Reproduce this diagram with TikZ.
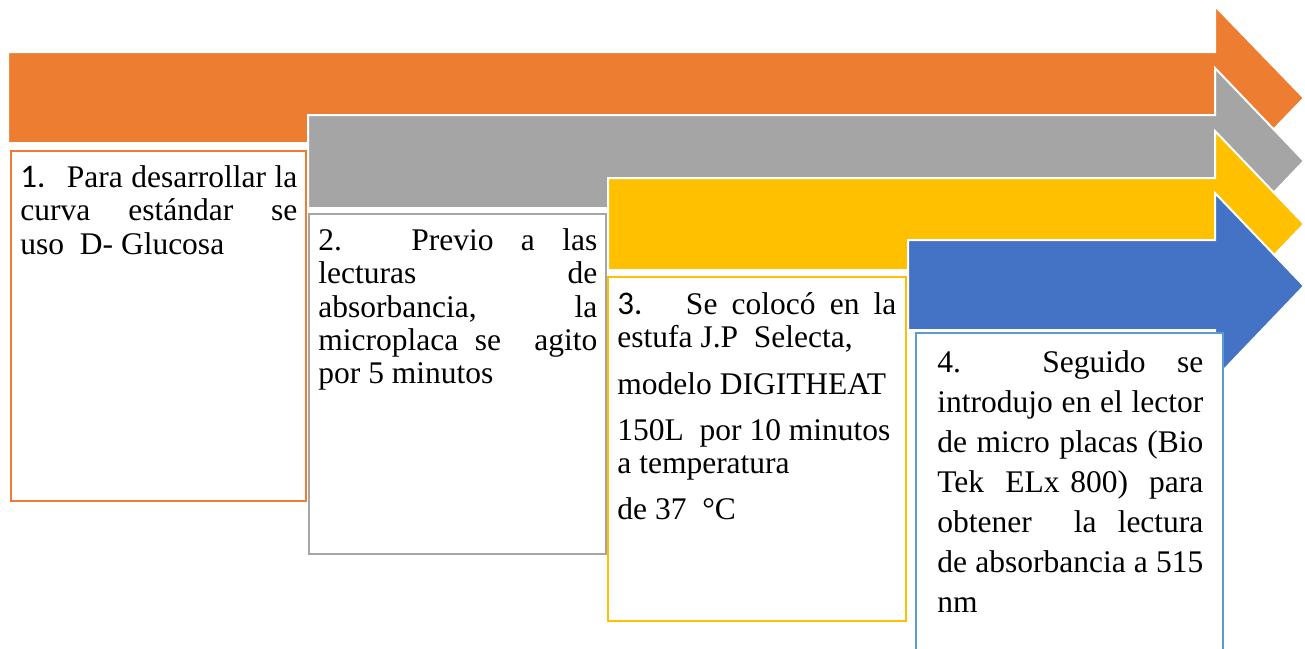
\documentclass[tikz,border=0pt]{standalone}
\usepackage{fontspec}
\setmainfont{Liberation Serif}
\newfontfamily\numfont{Carlito}
\usetikzlibrary{positioning}
\definecolor{pasoA}{HTML}{ED7D31}
\definecolor{pasoB}{HTML}{A5A5A5}
\definecolor{pasoC}{HTML}{FFC000}
\definecolor{pasoD}{HTML}{4472C4}
\definecolor{bordeD}{HTML}{5B9BD5}
\tikzset{
  flecha/.style={fill=#1, draw=white, line width=1pt, line join=miter},
  caja/.style={draw=#1, fill=white, line width=1pt, anchor=north west, inner sep=0pt},
  texto/.style={anchor=north west, inner sep=0pt, align=justify,
    font=\fontsize{15.75}{16.7}\selectfont},
}

\begin{document}
\begin{tikzpicture}[x=0.5pt, y=-0.5pt]
        \useasboundingbox (0, 0) rectangle (1305, 648);
        % arrows
        \filldraw[flecha=pasoA] (8, 52) -- (1215, 52) -- (1215, 6) -- (1304, 98)
          -- (1215, 190) -- (1215, 143) -- (8, 143) -- cycle;
        \filldraw[flecha=pasoB] (308, 115) -- (1215, 115) -- (1215, 68) -- (1304, 161)
          -- (1215, 254) -- (1215, 208) -- (308, 208) -- cycle;
        \filldraw[flecha=pasoC] (608, 178) -- (1215, 178) -- (1215, 131) -- (1304, 224)
          -- (1215, 317) -- (1215, 270) -- (608, 270) -- cycle;
        \filldraw[flecha=pasoD] (908, 240) -- (1215, 240) -- (1215, 193) -- (1304, 286)
          -- (1215, 379) -- (1215, 330) -- (908, 330) -- cycle;
        % boxes
        \node[caja=pasoA, minimum width=147.5pt, minimum height=175pt] (caja1) at (10, 150) {};
        \node[caja=pasoB, minimum width=148.5pt, minimum height=170pt] (caja2) at (308, 213) {};
        \node[caja=pasoC, minimum width=149pt, minimum height=172pt] (caja3) at (607, 276) {};
        \node[caja=bordeD, minimum width=153.5pt, minimum height=170pt] (caja4) at (915, 332) {};
        % text
        \node[texto, text width=138.5pt, below right=7.5pt and 5pt of caja1.north west] (paso1)
          {{\numfont\fontsize{16.5}{16.7}\selectfont 1.}~ Para desarrollar la\linebreak
           curva estándar se\linebreak
           uso~ D- Glucosa};
        \node[texto, text width=139.5pt, below right=7.5pt and 5pt of caja2.north west] (paso2)
          {2. Previo a las\linebreak
           lecturas de\linebreak
           absorbancia, la\linebreak
           microplaca se~ agito\linebreak
           por 5 minutos};
        \node[texto, text width=139.5pt, below right=8pt and 5pt of caja3.north west] (paso3)
          {{\numfont\fontsize{16.5}{16.7}\selectfont 3.}~ Se colocó en la\linebreak
           estufa J.P~ Selecta,\\[6.5pt]
           modelo DIGITHEAT\\[6.5pt]
           150L~ por 10 minutos\\
           a temperatura\\[6pt]
           de 37~ °C};
        \node[texto, text width=133pt, below right=9pt and 11pt of caja4.north west,
          font=\fontsize{15.75}{20}\selectfont] (paso4)
          {4. Seguido se\linebreak
           introdujo en el lector\linebreak
           de micro placas (Bio\linebreak
           Tek~ ELx 800)~ para\linebreak
           obtener~ la lectura\linebreak
           de absorbancia a 515\linebreak
           nm};
      \end{tikzpicture}
\end{document}
